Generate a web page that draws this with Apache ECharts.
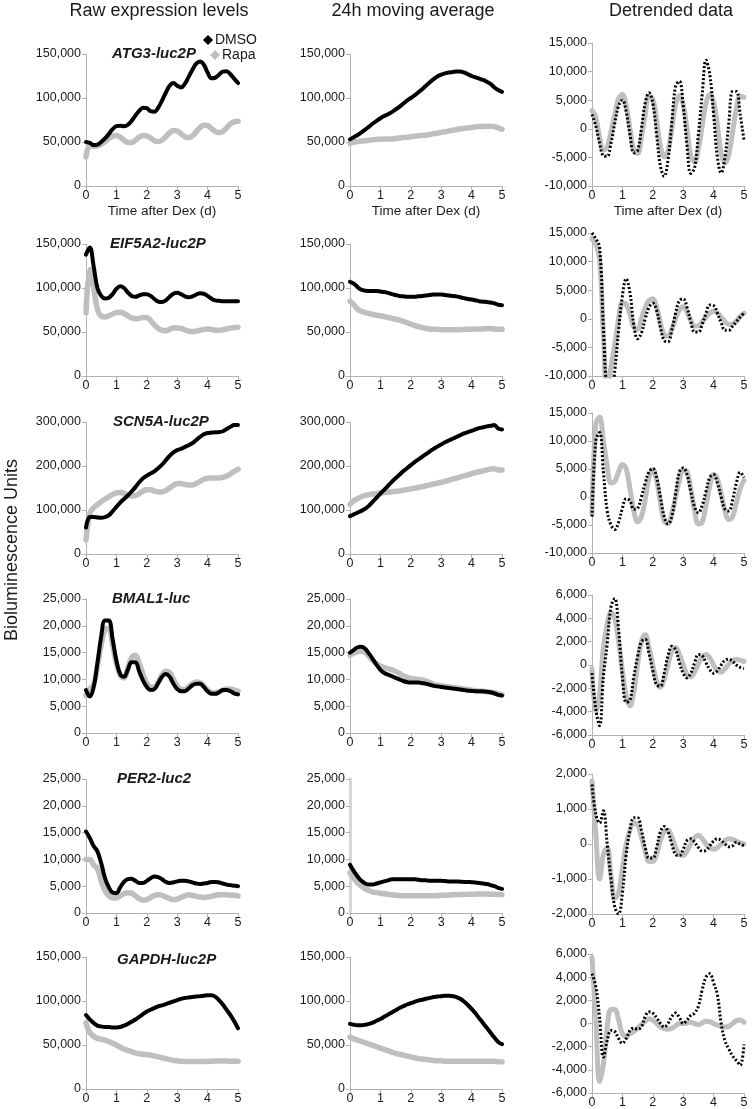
<!DOCTYPE html>
<html><head><meta charset="utf-8">
<script src="https://cdn.jsdelivr.net/npm/echarts@6/dist/echarts.min.js"></script>
<style>html,body{margin:0;padding:0;background:#fff}#c{width:752px;height:1109px}</style>
</head><body><div id="c"></div><script>
// time after Dex (days)
const T = [0,0.125,0.25,0.375,0.5,0.625,0.75,0.875,1,1.125,1.25,1.375,1.5,1.625,1.75,1.875,2,2.125,2.25,2.375,2.5,2.625,2.75,2.875,3,3.125,3.25,3.375,3.5,3.625,3.75,3.875,4,4.125,4.25,4.375,4.5,4.625,4.75,4.875,5];
const GENES = ['ATG3-luc2P','EIF5A2-luc2P','SCN5A-luc2P','BMAL1-luc','PER2-luc2','GAPDH-luc2P'];
const COL_TITLES = ['Raw expression levels','24h moving average','Detrended data'];
const SERIES_NAMES = ['DMSO','Rapa'];
const X_NAME = 'Time after Dex (d)';
const Y_NAME = 'Bioluminescence Units';
// tick settings
const RAW_MAX = [150000,150000,300000,25000,25000,150000];
const RAW_STEP = [50000,50000,100000,5000,5000,50000];
const DET_MIN = [-10000,-10000,-10000,-6000,-2000,-6000];
const DET_MAX = [15000,15000,15000,6000,2000,6000];
const DET_STEP = [5000,5000,5000,2000,1000,2000];
const X_MIN = 0, X_MAX = 5, X_STEP = 1;

// ATG3
const atg3RawDMSO = [50000,49000,46500,47000,50000,54000,59000,64500,68000,68500,68000,69500,74000,80000,85500,89000,88500,85000,84500,89000,97000,106000,114000,117000,114000,112000,116000,124000,132000,139000,141500,138000,129000,122500,123000,126500,130000,130500,127000,122000,117000];
const atg3RawRapa = [33000,46000,45000,45500,47500,50500,54000,56500,57500,55500,52000,49500,49500,52000,55500,57500,57000,54500,51500,50500,52000,56000,60500,63000,62500,59500,56000,55000,57000,61500,66500,69000,68500,65500,62000,60500,62000,66000,70500,73000,73500];
const atg3AvgDMSO = [53000,55500,58000,61000,64000,67500,71000,74000,77000,79500,81500,84000,87000,90000,93500,97000,100000,103000,106500,110000,114000,118000,121500,124500,126500,128000,129000,129500,130000,130000,129000,127000,125000,123500,122000,120500,118500,116000,112000,109000,107000];
const atg3AvgRapa = [48500,50000,50500,51000,51500,52000,52500,53000,53000,53500,53500,53500,54000,54500,55000,55500,56000,56500,57000,57500,58000,58500,59500,60000,61000,61500,62500,63500,64000,65000,65500,66000,66500,67000,67500,67500,68000,68000,67500,66000,64500];
const atg3DetDMSO = [2500,500,-2500,-4700,-4800,-2500,1000,4000,5000,3000,-1000,-4200,-3800,0,4500,6300,4500,-1000,-6500,-8300,-5500,1000,7500,8300,4000,-3000,-7800,-6800,-1000,6000,12000,9500,2500,-5000,-7700,-5000,1000,6500,6500,2500,-2000];
const atg3DetRapa = [3200,2000,-1500,-3700,-3200,-500,2500,5300,6000,4000,0,-3800,-4300,-1500,2500,5700,5200,1500,-3000,-4900,-3800,0,4300,5800,4300,0,-4800,-5800,-3500,500,4500,6000,4700,500,-4300,-6000,-4500,-500,3500,5700,5500];
// EIF5A2
const eifRawDMSO = [138000,146000,125000,100000,91000,88000,89000,93000,99000,102000,100000,95000,91000,90000,91500,93000,93000,91000,87500,84500,84000,86000,90000,93500,94500,93000,90500,89500,90500,92500,94000,93500,91000,88000,86000,85500,85000,85000,85000,85000,85000];
const eifRawRapa = [72000,121000,100000,76000,68000,67000,68500,70500,72000,72500,71000,68500,66000,65000,65500,66500,66500,63000,58000,54000,52000,51500,53000,54500,54500,54000,52500,51000,50500,51000,52000,53000,53500,53000,52000,52000,52500,53500,54500,55000,55500];
const eifAvgDMSO = [107000,105000,101000,98000,97000,96500,96500,96500,96000,95500,94500,93000,92000,91000,90500,90000,90000,90000,90500,91000,91500,92000,92500,92500,92500,92000,91500,91000,90500,89500,88500,87500,87000,86000,85000,84500,84000,83500,82500,81000,80500];
const eifAvgRapa = [85000,81000,76000,73500,72000,71000,70000,69000,68500,67500,66500,65500,64500,63500,62000,60500,59000,57500,56000,55000,54000,53500,53000,53000,52500,52500,52500,52500,52500,52500,53000,53000,53000,53500,53500,53500,54000,54000,53500,53000,53000];
const eifDetDMSO = [15000,14000,12500,-1500,-13000,-14000,-9000,-2000,4000,7000,4500,-1000,-3500,-2500,0,2000,2700,1500,-1500,-3800,-4000,-2000,1000,3200,3500,2000,-500,-2300,-2300,-1000,1000,2400,2300,1000,-700,-2000,-2000,-1300,-500,300,1000];
const eifDetRapa = [14000,13000,10500,-3000,-13000,-8500,-4500,0,2800,2500,800,-1500,-1800,0,2000,3200,3500,2000,-700,-2800,-3000,-1800,0,1500,2100,1200,-300,-1300,-1200,-500,300,1000,1300,1000,300,-500,-1000,-900,-400,400,1000];
// SCN5A
const scnRawDMSO = [60000,84000,84000,83000,82500,84000,88000,97000,107000,117000,125000,133000,142000,152000,163000,172000,178000,183000,188000,195000,203000,213000,223000,231000,236000,239000,243000,247000,252000,259000,266000,272000,275000,276000,276500,277000,279000,284000,289000,293000,293000];
const scnRawRapa = [32000,92000,105000,112000,119000,125000,130000,135000,139000,140000,138000,134000,132000,133000,137000,143000,146000,146000,143000,141000,141000,144000,150000,156000,160000,160000,158000,157000,157000,160000,165000,170000,172000,173000,173000,173000,174000,177000,182000,188000,193000];
const scnAvgDMSO = [86000,90000,94000,98000,103000,110000,119000,128000,137000,146000,155000,164000,172000,180000,188000,195000,202000,209000,215000,221000,227000,233000,239000,244000,249000,254000,258000,262000,266000,270000,274000,277000,280000,283000,286000,288000,290000,291500,293000,285000,283000];
const scnAvgRapa = [113000,121000,126000,130000,133000,135000,136500,137500,138500,139500,140500,141500,142500,143500,145000,146500,148000,149500,151000,153000,155000,157000,159000,161000,163000,165000,167500,170000,172500,175000,177500,180000,182500,185000,187000,189000,191000,193000,194000,191000,191000];
const scnDetDMSO = [-3500,10000,11500,4500,-2500,-5000,-5800,-4500,-2000,-300,-700,-2200,-2000,0,2500,4500,5100,3500,0,-3500,-4800,-3500,500,4500,5200,4000,1000,-1800,-2800,-1500,1000,3500,4000,2500,0,-2200,-2500,-500,2500,4400,3500];
const scnDetRapa = [-3000,13000,14300,10000,5500,2500,2800,4500,5800,5000,1500,-2500,-4400,-3500,-500,3500,4900,3000,-1000,-4300,-4700,-3000,0,3000,4800,4500,1500,-2500,-4800,-4500,-1500,2000,4000,3200,500,-2500,-4000,-3500,-1000,1500,3000];
// BMAL1
const bmalRawDMSO = [8000,6800,8500,13000,18000,21000,21000,17500,13500,11000,10500,11800,13200,13200,11500,9800,8600,8000,8200,9300,10500,11000,10500,9200,8200,7800,7800,8300,8900,9200,9200,8600,7800,7300,7300,7600,8000,8000,7800,7400,7200];
const bmalRawRapa = [7000,8200,9000,12500,16500,19300,19500,16500,13000,10800,10300,12000,14000,14500,13000,11000,9300,8600,8600,9500,10800,11500,11300,10000,8800,8100,8100,8600,9200,9500,9400,8800,8000,7600,7500,7700,8000,8200,8200,8000,7800];
const bmalAvgDMSO = [15000,15500,16000,16100,15700,14800,13800,12700,11800,11200,10900,10600,10300,10000,9700,9500,9400,9400,9400,9300,9200,9000,8800,8700,8600,8500,8400,8300,8200,8100,8000,7900,7850,7800,7800,7750,7700,7600,7400,7100,7000];
const bmalAvgRapa = [14500,14900,15200,15300,15000,14300,13500,12900,12500,12200,12000,11800,11500,11100,10700,10400,10200,10100,10000,9900,9700,9400,9100,8900,8800,8700,8600,8500,8400,8300,8200,8100,8000,7900,7800,7800,7700,7600,7500,7300,7100];
const bmalDetDMSO = [-700,-3800,-5200,-1000,1800,5000,5700,3000,-1000,-3200,-3000,-1000,700,2000,2200,1000,-500,-1700,-1800,-700,800,1600,1300,200,-700,-1100,-700,200,900,800,200,-400,-700,-500,0,400,500,300,0,-200,-300];
const bmalDetRapa = [-300,-4000,-2500,1500,3500,4500,4000,2000,-500,-2700,-3500,-2300,0,2000,2600,1500,0,-1400,-1900,-1200,0,1200,1500,900,0,-800,-1000,-600,100,700,900,600,0,-500,-600,-300,100,400,500,400,300];
// PER2
const per2RawDMSO = [15200,14000,12500,11500,9300,6500,4800,3800,3700,4800,5800,6300,6400,6000,5600,5600,6000,6500,6800,6700,6300,5800,5600,5700,5900,6000,6000,5900,5700,5500,5400,5500,5600,5800,5800,5700,5500,5300,5200,5100,5000];
const per2RawRapa = [10000,10000,9000,8300,6000,4200,3200,2800,2800,3200,3600,3800,3700,3200,2700,2400,2500,2900,3300,3400,3300,3000,2700,2500,2600,2900,3200,3400,3300,3100,3000,2900,3000,3100,3300,3400,3400,3400,3300,3300,3200];
const per2AvgDMSO = [9000,7800,6800,6000,5500,5300,5300,5500,5700,5900,6100,6300,6300,6300,6300,6300,6300,6300,6200,6100,6100,6000,6000,6000,6000,5950,5900,5900,5900,5850,5800,5800,5750,5700,5600,5500,5400,5200,5000,4700,4500];
const per2AvgRapa = [7500,6500,5600,5000,4500,4200,3900,3800,3700,3600,3500,3400,3300,3250,3200,3200,3200,3200,3200,3200,3200,3200,3200,3250,3300,3300,3350,3400,3400,3450,3450,3500,3500,3500,3550,3550,3550,3500,3500,3450,3400];
const per2DetDMSO = [1700,850,600,950,0,-1000,-1800,-2000,-1400,-300,400,750,750,400,-100,-400,-400,-100,350,500,350,0,-300,-330,-150,100,150,50,-100,-200,-180,-50,80,150,100,0,-80,-50,50,0,-50];
const per2DetRapa = [1800,300,-1000,-300,-100,-900,-1550,-1400,-700,0,400,600,550,200,-200,-500,-500,-300,100,350,400,200,-100,-300,-330,-200,0,180,250,150,0,-100,-150,-100,0,100,150,130,80,30,0];
// GAPDH
const gapdhRawDMSO = [84000,79000,75000,72000,71000,70500,70500,70000,70000,70500,72000,74000,76500,79000,82000,85000,88000,90000,92000,94000,95000,96500,98000,99500,101000,102500,103500,104000,104500,105000,105500,106000,106500,106500,105000,101000,96000,90000,84000,77000,69000];
const gapdhRawRapa = [75000,64000,60000,57500,56500,55500,54000,52000,50000,47500,45500,44000,42500,41000,40000,39500,39000,38500,37500,36500,35500,34500,33500,32500,32000,31500,31300,31200,31200,31200,31200,31200,31300,31500,31700,31800,31800,31700,31600,31500,31500];
const gapdhAvgDMSO = [74000,73000,72500,72500,73000,74000,75500,77500,79500,82000,84500,87000,89500,92000,94000,96000,97500,99000,100500,101500,102500,103500,104500,105000,105500,106000,106000,105500,104500,102500,99500,95500,91000,86000,80500,75000,69500,64000,58500,53500,51000];
const gapdhAvgRapa = [59000,57000,55500,54000,52500,51000,49500,48000,46500,45000,43500,42000,40500,39500,38500,37500,36500,35500,34500,34000,33500,33000,32500,32000,32000,31500,31500,31500,31500,31500,31500,31500,31500,31500,31500,31500,31500,31500,31500,31000,31000];
const gapdhDetDMSO = [4300,3200,500,-2900,-1500,-600,-700,-1300,-1700,-1300,-600,-400,-500,-300,600,1000,900,500,0,-300,0,600,900,500,0,300,700,900,1500,2900,4000,4300,3500,2500,0,-1500,-2200,-2800,-3200,-3600,-1800];
const gapdhDetRapa = [5700,500,-5000,-3500,-300,1200,1200,300,-900,-1100,-900,-700,-400,-100,200,400,300,0,-300,-450,-500,-400,-200,0,0,50,100,0,-100,50,200,150,0,-150,-250,-300,-250,0,250,300,100];

const DATA = [
  [[atg3RawDMSO,atg3RawRapa],[atg3AvgDMSO,atg3AvgRapa],[atg3DetDMSO,atg3DetRapa]],
  [[eifRawDMSO,eifRawRapa],[eifAvgDMSO,eifAvgRapa],[eifDetDMSO,eifDetRapa]],
  [[scnRawDMSO,scnRawRapa],[scnAvgDMSO,scnAvgRapa],[scnDetDMSO,scnDetRapa]],
  [[bmalRawDMSO,bmalRawRapa],[bmalAvgDMSO,bmalAvgRapa],[bmalDetDMSO,bmalDetRapa]],
  [[per2RawDMSO,per2RawRapa],[per2AvgDMSO,per2AvgRapa],[per2DetDMSO,per2DetRapa]],
  [[gapdhRawDMSO,gapdhRawRapa],[gapdhAvgDMSO,gapdhAvgRapa],[gapdhDetDMSO,gapdhDetRapa]]
];

// layout
const COL_LEFT = [86, 350, 592];
const PLOT_W = 152;
const ROW_TOP = [[54,54,43],[244,244,233],[422,422,413],[599,599,595],[779,779,774],[957,957,954]];
const ROW_BOTTOM = [[186,186,186],[376,376,376],[554,554,553],[733,733,735],[913,913,914],[1089,1089,1093]];
const GENE_POS = [[112,54],[110,244],[113,422],[112,599],[117,779],[117,960]];
const FONT = '"Liberation Sans", Arial, sans-serif';
const BLACK = '#000000', GRAY = '#bfbfbf', AXIS = '#b3b3b3', TXT = '#1a1a1a';

const fmt = v => String(v).replace(/\B(?=(\d{3})+(?!\d))/g, ',');

const grid = [], xAxis = [], yAxis = [], series = [];
let idx = 0;
for (let r = 0; r < 6; r++) {
  for (let c = 0; c < 3; c++) {
    const top = ROW_TOP[r][c], bottom = ROW_BOTTOM[r][c];
    grid.push({left: COL_LEFT[c], top: top, width: PLOT_W, height: bottom - top, containLabel: false});
    xAxis.push({
      type: 'value', gridIndex: idx, min: X_MIN, max: X_MAX, interval: X_STEP,
      position: 'bottom',
      axisLine: {onZero: false, lineStyle: {color: AXIS, width: 1}},
      axisTick: {show: true, length: 4, lineStyle: {color: AXIS}},
      axisLabel: {fontSize: 12.5, color: TXT, fontFamily: FONT, margin: 3},
      splitLine: {show: false},
      name: r === 0 ? X_NAME : '', nameLocation: 'middle', nameGap: 18,
      nameTextStyle: {fontSize: 13.5, color: TXT, fontFamily: FONT, verticalAlign: 'top'}
    });
    const det = c === 2;
    const thickAxis = (r === 4 && c === 1);
    yAxis.push({
      type: 'value', gridIndex: idx,
      min: det ? DET_MIN[r] : 0, max: det ? DET_MAX[r] : RAW_MAX[r],
      interval: det ? DET_STEP[r] : RAW_STEP[r],
      axisLine: {show: true, onZero: false, lineStyle: {color: thickAxis ? '#d6d6d6' : AXIS, width: thickAxis ? 3 : 1}},
      axisTick: {show: true, length: 4, lineStyle: {color: AXIS}},
      axisLabel: {fontSize: 12.5, color: TXT, fontFamily: FONT, margin: 5, formatter: fmt},
      splitLine: {show: false}
    });
    for (let s = 0; s < 2; s++) {
      const arr = DATA[r][c][s];
      const isBlack = s === 0;
      let lw, ltype = 'solid';
      if (det) { lw = isBlack ? 3 : 5; if (isBlack) ltype = [2, 2]; }
      else { lw = isBlack ? 4 : 5.5; }
      series.push({
        type: 'line', name: SERIES_NAMES[s], xAxisIndex: idx, yAxisIndex: idx,
        data: T.map((t, k) => [t, arr[k]]),
        symbol: 'none', showSymbol: false, smooth: 0.4, clip: true,
        lineStyle: {color: isBlack ? BLACK : GRAY, width: lw, type: ltype, cap: det && isBlack ? 'butt' : 'round', join: 'round'},
        itemStyle: {color: isBlack ? BLACK : GRAY},
        z: isBlack ? 3 : 2, silent: true
      });
    }
    idx++;
  }
}

const graphic = [];
const titleX = [159, 413, 671];
COL_TITLES.forEach((t, i) => graphic.push({
  type: 'text', x: titleX[i], y: 11,
  style: {text: t, font: '18px ' + FONT, fill: TXT, align: 'center', verticalAlign: 'middle'}
}));
GENES.forEach((g, i) => graphic.push({
  type: 'text', x: GENE_POS[i][0], y: GENE_POS[i][1],
  style: {text: g, font: 'italic bold 15px ' + FONT, fill: TXT, align: 'left', verticalAlign: 'middle'}
}));
graphic.push({
  type: 'text', x: 12, y: 550, rotation: Math.PI / 2,
  style: {text: Y_NAME, font: '18px ' + FONT, fill: TXT, align: 'center', verticalAlign: 'middle'}
});

const legendCommon = {
  orient: 'vertical', icon: 'diamond', itemWidth: 10, itemHeight: 10, itemGap: 0, padding: 0,
  selectedMode: false, textStyle: {fontSize: 14, color: TXT, fontFamily: FONT, padding: [0, 0, 0, -3]}
};

const chart = echarts.init(document.getElementById('c'), null, {renderer: 'canvas'});
chart.setOption({
  animation: false,
  backgroundColor: '#ffffff',
  grid, xAxis, yAxis, series, graphic,
  legend: [
    Object.assign({}, legendCommon, {data: ['DMSO'], left: 203, top: 33}),
    Object.assign({}, legendCommon, {data: ['Rapa'], left: 210, top: 48})
  ]
});
</script></body></html>
